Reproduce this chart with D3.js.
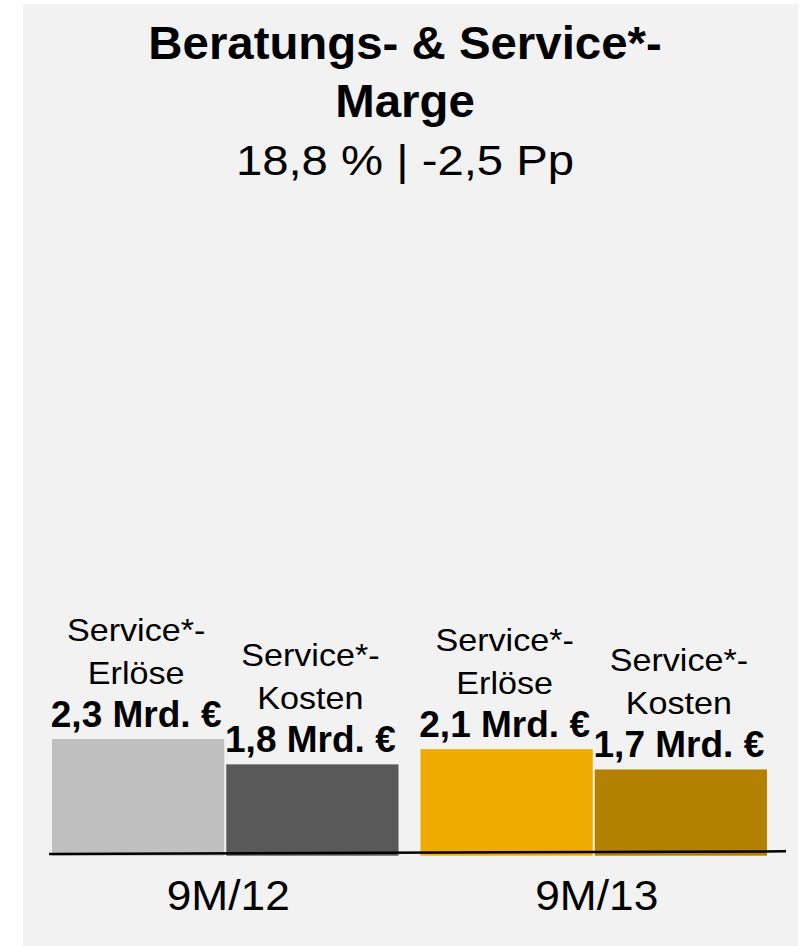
<!DOCTYPE html>
<html>
<head>
<meta charset="utf-8">
<script src="https://cdn.jsdelivr.net/npm/d3@7"></script>
<style>
  html, body { margin: 0; padding: 0; background: #ffffff; }
  svg { display: block; }
  text { font-family: "Liberation Sans", Arial, sans-serif; fill: #000; }
</style>
</head>
<body>
<svg id="chart" width="807" height="946"></svg>
<script>
// ---- Data ----
const periods = ["9M/12", "9M/13"];
const seriesKeys = ["Erlöse", "Kosten"];
const seriesLine1 = ["Service*-", "Service*-"];
const revenue = [2.3, 2.1];   // Mrd. €
const costs = [1.8, 1.7];     // Mrd. €
const valueLabels = [["2,3 Mrd. €", "1,8 Mrd. €"], ["2,1 Mrd. €", "1,7 Mrd. €"]];
const barColors = [["#bfbfbf", "#595959"], ["#f0ab00", "#b38200"]];
const titleLines = ["Beratungs- & Service*-", "Marge"];
const subtitle = "18,8 % | -2,5 Pp";

const table = periods.map((p, i) => ({
  period: p,
  values: [
    { key: seriesKeys[0], line1: seriesLine1[0], value: revenue[i], label: valueLabels[i][0], color: barColors[i][0] },
    { key: seriesKeys[1], line1: seriesLine1[1], value: costs[i], label: valueLabels[i][1], color: barColors[i][1] }
  ]
}));

const svg = d3.select("#chart");

// panel background
svg.append("rect").attr("x", 23).attr("y", 4).attr("width", 775).attr("height", 942).attr("fill", "#f2f2f2");

// scales
const x0 = d3.scaleBand().domain(periods).range([52, 767]).paddingInner(0.0597);
const x1 = d3.scaleBand().domain(seriesKeys).range([0, x0.bandwidth()]).paddingInner(0.0115);
const y = d3.scaleLinear().domain([0, 2.3]).range([855.7, 739]);

function stretchedText(sel, x, yy, str, size, weight, sx) {
  return sel.append("text")
    .attr("transform", `translate(${x},${yy}) scale(${sx},1)`)
    .attr("text-anchor", "middle")
    .style("font-size", size + "px")
    .style("font-weight", weight)
    .text(str);
}

// title
stretchedText(svg, 405, 59, titleLines[0], 46, "bold", 1.03);
stretchedText(svg, 405, 117, titleLines[1], 46, "bold", 1.03);
stretchedText(svg, 405, 175, subtitle, 43, "normal", 1.1);

// bars
const groups = svg.selectAll("g.grp").data(table).join("g")
  .attr("class", "grp")
  .attr("transform", d => `translate(${x0(d.period)},0)`);

groups.selectAll("rect").data(d => d.values).join("rect")
  .attr("x", d => x1(d.key))
  .attr("width", x1.bandwidth())
  .attr("y", d => y(d.value))
  .attr("height", d => y(0) - y(d.value))
  .attr("fill", d => d.color);

// labels above bars
groups.each(function (g) {
  const gs = d3.select(this);
  g.values.forEach(d => {
    const cx = x1(d.key) + x1.bandwidth() / 2 - 2;
    const base = y(d.value) - 12;
    stretchedText(gs, cx, base - 86, d.line1, 31, "normal", 1.1);
    stretchedText(gs, cx, base - 43, d.key, 31, "normal", 1.1);
    stretchedText(gs, cx, base, d.label, 37, "bold", 1.0);
  });
});

// baseline (slightly tilted as in reference)
svg.append("line")
  .attr("x1", 49).attr("y1", 854)
  .attr("x2", 786).attr("y2", 851.3)
  .attr("stroke", "#000").attr("stroke-width", 2.5);

// category labels
periods.forEach(p => {
  stretchedText(svg, x0(p) + x0.bandwidth() / 2 + 3, 910, p, 43, "normal", 1.03);
});
</script>
</body>
</html>
